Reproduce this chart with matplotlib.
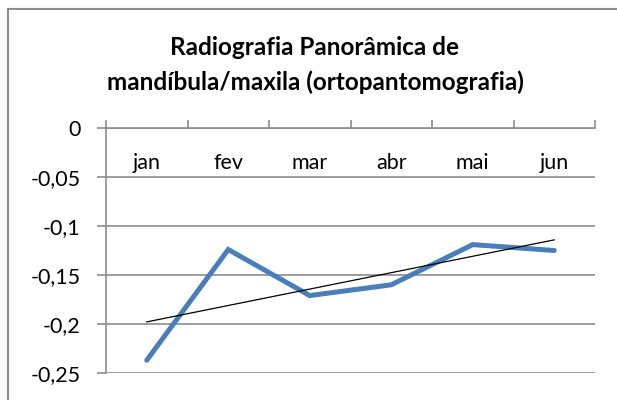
import numpy as np
import matplotlib
matplotlib.use("Agg")
import matplotlib.pyplot as plt
from matplotlib.patches import Rectangle

categories = ["jan", "fev", "mar", "abr", "mai", "jun"]
values = [-0.237, -0.124, -0.171, -0.160, -0.119, -0.125]
yticks = [0, -0.05, -0.1, -0.15, -0.2, -0.25]
ytick_labels = ["0", "-0,05", "-0,1", "-0,15", "-0,2", "-0,25"]
title = "Radiografia Panorâmica de\nmandíbula/maxila (ortopantomografia)"

plt.rcParams['font.family'] = ['Lato', 'DejaVu Sans']

fig = plt.figure(figsize=(6.17, 4.0), dpi=100)
ax = fig.add_axes([106/617, 27/400, (595-106)/617, (373-128)/400])

x = np.arange(len(categories))
ax.plot(x, values, color="#4A7EBB", lw=3.6, solid_capstyle="round", solid_joinstyle="miter", zorder=3)
m, b = np.polyfit(x, values, 1)
ax.plot(x, m * x + b, color="black", lw=0.9, zorder=4)

ax.set_xlim(-0.5, len(categories) - 0.5)
ax.set_ylim(-0.25, 0)
ax.set_yticks(yticks)
ax.set_yticklabels(ytick_labels, fontsize=15.5)
ax.yaxis.grid(True, color="#8C8C8C", lw=1.2)
ax.set_axisbelow(True)

gray = "#8C8C8C"
for s in ["right", "bottom"]:
    ax.spines[s].set_visible(False)
ax.spines["left"].set_color(gray)
ax.spines["top"].set_color(gray)
ax.spines["left"].set_linewidth(1.2)
ax.spines["top"].set_linewidth(1.2)
ax.tick_params(axis="y", length=6.5, color=gray, width=1.2, pad=12)

ax.set_xticks(x)
ax.set_xticklabels(categories, fontsize=15.5)
ax.set_xticks(np.arange(len(categories) + 1) - 0.5, minor=True)
ax.tick_params(axis="x", which="major", top=False, bottom=False, labeltop=True, labelbottom=False, pad=-36)
ax.tick_params(axis="x", which="minor", top=True, bottom=False, direction="out", length=6, color=gray, width=1.2)

fig.text(315/617, 1 - 65/400, title, ha="center", va="center", fontsize=17.5, fontweight="bold", linespacing=1.55)

fig.patches.append(Rectangle((8/617, -0.1), 1.2, 1 - 9/400 + 0.1, transform=fig.transFigure,
                             fill=False, edgecolor=gray, lw=1.5))

fig.savefig("out.png", dpi=100)
